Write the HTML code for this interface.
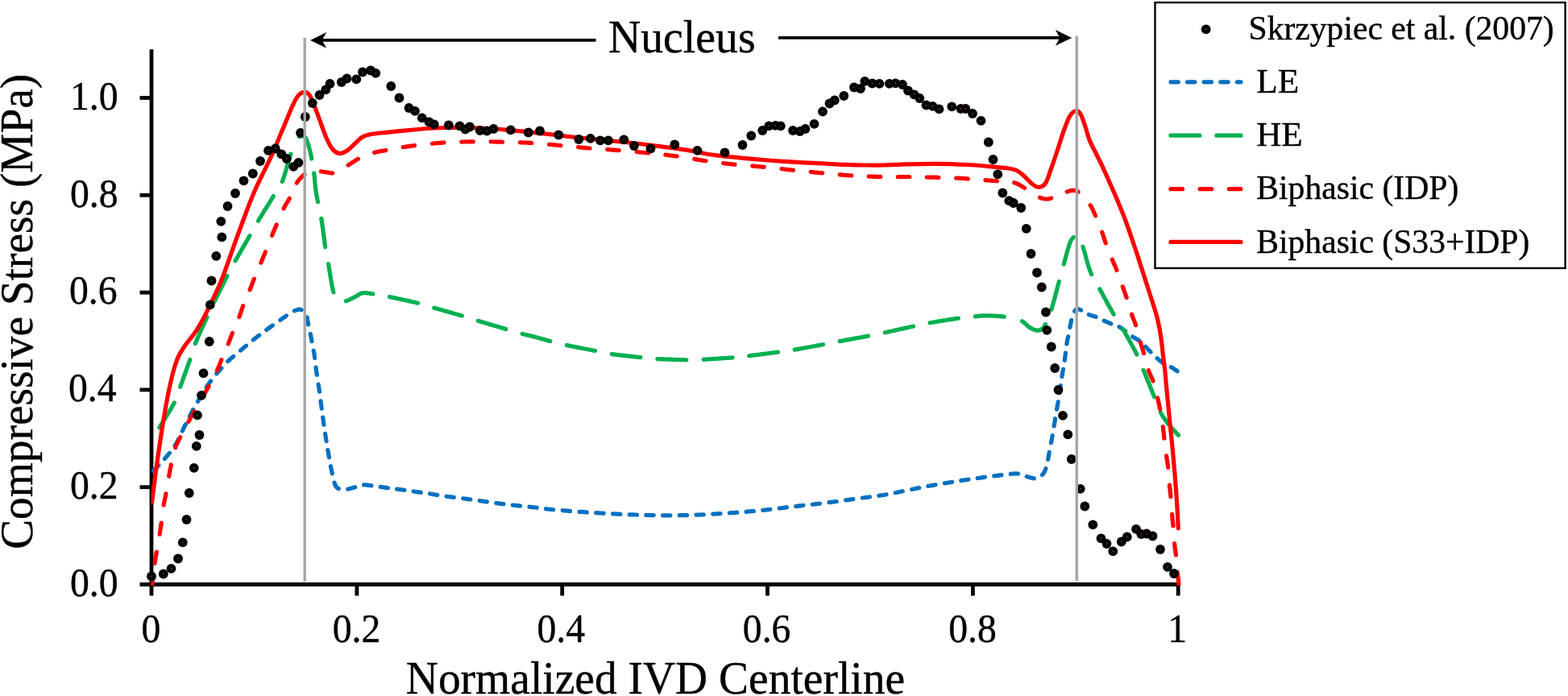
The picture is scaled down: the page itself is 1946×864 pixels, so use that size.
<!DOCTYPE html>
<html lang="en"><head><meta charset="utf-8"><title>Compressive stress along IVD centerline</title>
<style>html,body{margin:0;padding:0;background:#fff;}body{width:1946px;height:864px;overflow:hidden;}svg{display:block;}text{font-family:"Liberation Serif","Times New Roman",serif;fill:#000;}</style>
</head><body>
<svg width="1946" height="864" viewBox="0 0 1946 864">
<rect width="1946" height="864" fill="#fff"/>
<g stroke="#000" stroke-width="4.8" fill="none">
<line x1="188.0" y1="61.2" x2="188.0" y2="739.5"/>
<line x1="173.5" y1="725.5" x2="1465" y2="725.5"/>
<line x1="173.5" y1="604.7" x2="188.0" y2="604.7"/>
<line x1="173.5" y1="483.9" x2="188.0" y2="483.9"/>
<line x1="173.5" y1="363.1" x2="188.0" y2="363.1"/>
<line x1="173.5" y1="242.3" x2="188.0" y2="242.3"/>
<line x1="173.5" y1="121.5" x2="188.0" y2="121.5"/>
<line x1="442.9" y1="725.5" x2="442.9" y2="739.5"/>
<line x1="697.7" y1="725.5" x2="697.7" y2="739.5"/>
<line x1="952.5" y1="725.5" x2="952.5" y2="739.5"/>
<line x1="1207.4" y1="725.5" x2="1207.4" y2="739.5"/>
<line x1="1462.2" y1="725.5" x2="1462.2" y2="739.5"/>
</g>
<defs><clipPath id="plot"><rect x="187.4" y="30" width="1279" height="697"/></clipPath></defs>
<g clip-path="url(#plot)">
<path d="M190.4 584.6L191.4 583.5L192.3 582.5L193.3 581.5L194.5 580.3L195.3 579.4L196.3 578.4L196.8 577.8M204.4 569.5L205.3 568.5L206.1 567.5L206.9 566.6L207.7 565.6L208.5 564.7L209.2 563.7L210.0 562.8L210.4 562.4M217.0 553.3L217.7 552.1L218.4 551.1L219.0 550.1L219.7 548.7L220.4 547.3L221.1 545.9L221.5 545.2M226.3 535.0L227.0 533.7L227.6 532.3L228.3 530.9L228.9 529.8L229.4 528.7L230.0 527.6L230.4 526.7M235.4 516.6L235.9 515.5L236.6 514.2L237.3 512.8L237.9 511.7L238.5 510.6L239.1 509.4L239.7 508.4M245.5 498.4L246.2 497.2L246.8 496.1L247.5 495.0L248.3 493.7L249.1 492.3L249.8 491.3L250.2 490.4M256.3 480.6L257.1 479.4L258.0 478.0L258.8 476.8L259.6 475.6L260.6 474.2L261.4 473.1L261.5 472.9M268.8 463.9L269.7 462.8L270.7 461.6L271.7 460.5L272.7 459.3L273.7 458.2L274.7 457.0L274.8 456.9M282.8 448.5L283.9 447.5L285.0 446.5L286.2 445.4L287.1 444.6L288.1 443.8L289.0 443.0L289.7 442.4M298.5 435.1L299.4 434.3L300.7 433.2L301.7 432.4L302.6 431.6L303.6 430.7L304.6 429.9L305.5 429.1L305.6 429.1M314.3 421.9L315.3 421.0L316.3 420.3L317.3 419.5L318.2 418.8L319.2 418.1L320.4 417.1L321.7 416.2M330.8 409.4L331.9 408.6L332.9 407.9L333.9 407.2L334.9 406.4L335.9 405.7L337.0 405.0L338.0 404.2L338.4 404.0M347.8 397.3L349.1 396.4L350.2 395.6L351.3 394.8L352.3 394.1L353.4 393.3L354.4 392.6L355.4 391.9M365.3 385.8L366.5 385.3L368.0 384.9L369.3 384.5L370.5 384.2L371.8 384.1L373.0 384.2L374.1 384.6L374.2 384.7M381.1 393.8L381.4 395.3L381.5 396.5L381.7 397.9L381.9 399.2L382.1 400.6L382.4 402.0L382.6 402.9M385.2 414.6L385.5 416.2L385.8 417.4L386.0 418.7L386.3 420.0L386.6 421.5L386.9 423.1L387.0 423.7M389.2 435.3L389.5 436.8L389.7 438.0L389.9 439.2L390.1 440.4L390.3 442.0L390.5 443.5L390.6 444.5M392.0 456.1L392.1 457.4L392.3 458.7L392.5 460.0L392.7 461.4L392.9 462.8L393.1 464.3L393.3 465.4M395.1 477.0L395.3 478.5L395.5 479.8L395.8 481.2L396.0 482.6L396.2 484.0L396.3 485.3L396.5 486.2M398.0 497.8L398.2 499.4L398.4 500.7L398.6 502.0L398.7 503.3L398.9 504.6L399.1 505.9L399.2 507.1M400.7 518.1L400.9 519.3L401.1 520.8L401.3 522.2L401.4 523.5L401.6 524.9L401.8 526.3L402.0 527.3M403.6 538.4L403.8 539.8L404.0 541.3L404.3 542.7L404.5 544.2L404.7 545.6L404.9 547.1L405.0 547.6M406.8 558.6L407.1 560.1L407.3 561.7L407.6 563.3L407.9 564.8L408.1 566.3L408.4 567.8M410.4 578.7L410.7 580.2L410.9 581.4L411.2 582.5L411.5 584.1L411.8 585.6L412.1 587.0L412.3 587.9M415.1 599.3L415.5 600.4L415.9 601.7L416.6 603.0L417.4 604.4L418.2 605.3L419.4 606.2L420.3 606.6M431.8 607.2L433.1 606.9L434.3 606.6L435.5 606.3L436.8 605.9L438.0 605.6L439.2 605.2L440.4 604.9L440.8 604.8M451.7 601.9L452.9 601.9L454.4 602.0L456.0 602.2L457.2 602.3L458.4 602.5L459.7 602.7L461.0 602.8M472.2 604.4L473.7 604.6L475.0 604.8L476.3 605.0L477.6 605.2L479.0 605.4L480.3 605.5L481.4 605.7M492.6 607.2L493.9 607.3L495.1 607.5L496.4 607.6L497.6 607.8L498.9 608.0L500.1 608.1L501.4 608.3L501.9 608.4M513.1 610.0L514.5 610.2L515.7 610.4L516.9 610.5L518.1 610.7L519.3 610.9L520.5 611.1L521.7 611.2L522.3 611.3M533.6 613.0L535.2 613.3L536.3 613.5L537.5 613.7L538.7 613.8L539.9 614.0L541.1 614.2L542.3 614.4L542.8 614.5M554.1 616.2L555.4 616.4L556.6 616.5L557.8 616.7L559.0 616.8L560.2 617.0L561.3 617.1L562.5 617.3L563.3 617.4M574.7 618.8L576.0 619.0L577.2 619.1L578.4 619.3L579.6 619.4L580.8 619.6L582.0 619.8L583.2 619.9L583.9 620.0M595.2 621.6L596.7 621.8L597.9 622.0L599.0 622.2L600.2 622.3L601.4 622.5L602.6 622.7L603.8 622.8L604.4 622.9M615.8 624.5L617.0 624.6L618.5 624.9L620.1 625.1L621.7 625.3L622.9 625.4L624.1 625.6L625.0 625.7M636.3 627.0L637.8 627.2L639.0 627.3L640.2 627.4L641.5 627.6L642.7 627.7L644.0 627.8L645.2 627.9L645.6 628.0M656.9 629.2L658.1 629.3L659.6 629.5L660.9 629.6L662.1 629.7L663.4 629.9L664.6 630.0L666.1 630.2L666.2 630.2M677.5 631.7L679.0 631.9L680.3 632.0L681.7 632.2L683.0 632.3L684.5 632.5L686.0 632.6L686.7 632.7M698.2 633.7L699.7 633.8L700.9 633.9L702.1 634.0L703.4 634.1L704.6 634.2L705.9 634.3L707.2 634.4L707.5 634.4M719.0 635.3L720.5 635.4L721.7 635.4L722.9 635.5L724.1 635.6L725.3 635.7L726.5 635.8L727.7 635.9L728.3 635.9M739.8 636.7L741.0 636.7L742.3 636.8L743.5 636.9L744.7 637.0L745.9 637.0L747.1 637.1L748.3 637.2L749.1 637.2M760.6 637.8L762.0 637.9L763.2 638.0L764.4 638.0L765.6 638.1L766.9 638.1L768.1 638.2L769.3 638.3L769.9 638.3M781.2 638.8L782.6 638.8L783.8 638.9L785.0 638.9L786.2 638.9L787.4 639.0L788.6 639.0L789.8 639.1L790.5 639.1M801.9 639.4L803.1 639.4L804.4 639.5L805.6 639.5L806.8 639.5L808.0 639.6L809.2 639.6L810.4 639.6L811.2 639.6M822.6 639.8L824.1 639.8L825.3 639.8L826.5 639.8L827.7 639.8L829.0 639.8L830.2 639.8L831.4 639.8L831.9 639.8M843.3 639.7L844.7 639.7L845.9 639.7L847.1 639.6L848.3 639.6L849.5 639.6L850.7 639.6L851.9 639.5L852.6 639.5M864.0 639.1L865.2 639.1L866.5 639.1L867.7 639.0L868.9 639.0L870.1 638.9L871.3 638.9L872.5 638.8L873.3 638.8M884.7 638.2L886.2 638.1L887.4 638.0L888.6 637.9L889.8 637.9L891.0 637.8L892.3 637.7L893.5 637.6L894.0 637.6M905.4 636.8L906.8 636.7L908.0 636.6L909.2 636.6L910.4 636.5L911.6 636.4L912.8 636.3L914.0 636.2L914.7 636.2M926.1 635.3L927.6 635.1L928.8 635.0L929.9 634.9L931.1 634.8L932.3 634.7L933.5 634.6L934.7 634.5L935.4 634.5M946.7 633.4L947.9 633.3L949.1 633.1L950.3 633.0L951.5 632.9L952.7 632.7L953.9 632.6L955.1 632.5L955.9 632.4M967.2 631.0L968.6 630.8L969.8 630.7L971.0 630.5L972.2 630.4L973.4 630.2L974.6 630.1L975.8 629.9L976.5 629.8M987.8 628.5L989.0 628.3L990.2 628.2L991.4 628.1L992.6 627.9L993.8 627.8L995.0 627.7L996.2 627.5L997.0 627.4M1008.3 626.2L1009.7 626.0L1010.9 625.9L1012.1 625.7L1013.3 625.6L1014.5 625.5L1015.7 625.3L1016.9 625.2L1017.5 625.1M1029.0 623.7L1030.5 623.5L1031.7 623.3L1032.9 623.2L1034.1 623.0L1035.3 622.9L1036.5 622.7L1037.7 622.5L1038.2 622.5M1049.6 620.9L1050.8 620.8L1052.0 620.6L1053.2 620.4L1054.4 620.3L1055.6 620.1L1056.8 619.9L1058.0 619.8L1058.8 619.7M1070.2 618.1L1071.5 618.0L1072.7 617.8L1074.0 617.6L1075.2 617.5L1076.5 617.3L1077.7 617.2L1079.0 617.0L1079.4 616.9M1090.8 615.3L1092.1 615.1L1093.6 614.9L1095.0 614.7L1096.5 614.5L1098.0 614.2L1099.3 614.0L1100.0 613.9M1111.2 611.7L1112.4 611.5L1113.9 611.1L1115.4 610.8L1116.9 610.5L1118.4 610.2L1119.8 609.9L1120.3 609.8M1131.6 607.5L1133.1 607.2L1134.3 606.9L1135.5 606.7L1136.7 606.4L1137.9 606.2L1139.4 605.9L1140.7 605.6M1151.9 603.4L1153.2 603.2L1154.4 603.0L1155.6 602.8L1156.7 602.6L1157.9 602.4L1159.1 602.2L1160.3 602.0L1161.1 601.8M1172.4 599.9L1173.8 599.7L1175.0 599.5L1176.2 599.3L1177.4 599.1L1178.6 598.9L1179.8 598.7L1181.0 598.5L1181.6 598.4M1192.8 596.6L1194.0 596.4L1195.2 596.2L1196.4 596.0L1197.6 595.9L1198.8 595.7L1200.0 595.5L1201.2 595.3L1202.0 595.2M1213.2 593.6L1214.6 593.4L1215.8 593.2L1217.0 593.1L1218.6 592.9L1220.2 592.6L1221.7 592.4L1222.4 592.3M1233.7 590.9L1235.1 590.7L1236.6 590.5L1238.2 590.3L1239.7 590.1L1241.2 589.9L1242.7 589.7L1242.9 589.7M1254.2 588.4L1255.7 588.2L1256.9 588.1L1258.4 588.0L1260.0 587.9L1261.4 587.9L1263.0 588.0L1263.5 588.1M1274.3 591.6L1275.4 591.9L1276.8 592.3L1278.0 592.7L1279.2 593.0L1280.4 593.4L1282.0 593.7L1283.3 593.9M1293.5 589.6L1294.5 588.5L1295.3 587.4L1296.0 586.1L1296.7 584.8L1297.2 583.7L1297.6 582.5L1297.9 581.6M1300.6 570.5L1300.9 568.9L1301.1 567.7L1301.4 566.4L1301.6 565.1L1301.8 563.8L1302.0 562.5L1302.2 561.4M1304.5 549.7L1304.8 548.2L1305.0 547.0L1305.2 545.8L1305.5 544.6L1305.7 543.4L1305.9 542.1L1306.1 540.8L1306.2 540.6M1308.1 528.9L1308.4 527.5L1308.6 526.3L1308.8 525.1L1309.0 523.9L1309.2 522.7L1309.3 521.5L1309.5 520.3L1309.6 519.7M1311.6 508.1L1311.9 506.6L1312.1 505.0L1312.4 503.5L1312.6 502.3L1312.8 501.1L1313.0 499.9L1313.2 498.9M1314.9 487.8L1315.1 486.4L1315.3 485.1L1315.4 483.9L1315.6 482.7L1315.8 481.5L1316.0 480.3L1316.1 479.0L1316.2 478.6M1317.9 467.5L1318.1 466.3L1318.3 465.1L1318.5 463.8L1318.7 462.6L1318.9 461.4L1319.2 460.2L1319.4 459.0L1319.5 458.4M1321.3 447.3L1321.5 445.8L1321.7 444.5L1321.9 443.2L1322.0 441.9L1322.2 440.7L1322.3 439.4L1322.5 438.1L1322.5 438.1M1323.9 427.0L1324.1 425.6L1324.3 424.3L1324.6 422.8L1324.9 421.3L1325.2 419.9L1325.6 418.5L1325.7 417.9M1327.9 406.4L1328.2 404.8L1328.4 403.5L1328.7 402.3L1328.9 401.0L1329.2 399.8L1329.5 398.3L1329.7 397.3M1333.7 386.4L1334.4 385.4L1335.4 384.4L1336.8 383.7L1338.2 383.7L1339.6 384.1L1340.8 384.6L1341.6 385.0M1351.3 390.5L1352.8 391.1L1354.0 391.5L1355.2 391.8L1356.4 392.2L1357.6 392.6L1358.8 392.9L1360.1 393.4M1370.2 398.1L1371.4 398.7L1372.5 399.2L1373.6 399.7L1374.7 400.2L1375.9 400.7L1377.0 401.2L1378.1 401.7L1378.7 401.9M1389.1 405.8L1390.3 406.5L1391.4 407.2L1392.7 408.1L1393.7 408.8L1394.7 409.6L1395.7 410.4L1396.7 411.1M1405.6 417.9L1406.6 418.6L1407.8 419.3L1408.8 419.9L1410.2 420.6L1411.4 421.4L1412.7 422.1L1413.5 422.7M1421.6 430.3L1422.6 431.3L1423.4 432.2L1424.5 433.3L1425.7 434.5L1426.6 435.4L1427.4 436.3L1428.1 437.0M1436.1 444.7L1437.1 445.6L1438.0 446.4L1439.0 447.3L1439.9 448.1L1440.9 448.8L1441.9 449.5L1442.8 450.2L1443.3 450.6M1453.4 455.8L1454.6 456.4L1455.7 457.2L1456.9 457.9L1458.1 458.7L1459.3 459.5L1460.4 460.2L1461.2 460.8" stroke="#0070c0" fill="none" stroke-width="5.2" stroke-linecap="round" stroke-linejoin="round"/>
<path d="M197.9 530.7L198.7 529.4L199.3 528.4L200.0 527.2L200.8 526.0L201.6 524.7L202.3 523.6L202.9 522.5L203.6 521.4L204.4 520.3L205.1 519.1L205.8 517.9L206.6 516.7L207.3 515.5L208.0 514.3L208.8 513.0L209.5 511.8L210.3 510.6L211.0 509.4L211.7 508.2L212.3 507.1L213.0 506.0L213.6 504.9L214.2 503.8L215.0 502.4L215.7 501.2L216.3 500.0L216.4 499.9M223.7 480.2L224.2 478.8L224.7 477.4L225.2 476.1L225.8 474.6L226.3 473.1L226.7 471.9L227.1 470.7L227.6 469.5L228.0 468.3L228.5 467.0L228.9 465.8L229.4 464.5L229.8 463.3L230.3 462.0L230.7 460.7L231.2 459.5L231.6 458.2L232.1 457.0L232.5 455.7L232.9 454.5L233.4 453.3L233.8 452.2L234.2 451.0L234.7 449.6L235.2 448.2L235.7 446.8L235.8 446.3M242.4 426.5L243.0 425.1L243.5 424.0L243.9 422.8L244.5 421.5L245.0 420.3L245.5 419.0L246.1 417.7L246.7 416.3L247.3 415.0L247.9 413.6L248.5 412.2L249.2 410.7L249.6 409.6L250.2 408.5L250.7 407.3L251.2 406.1L251.7 405.0L252.3 403.8L252.8 402.5L253.4 401.3L254.0 400.0L254.6 398.7L255.2 397.4L255.8 396.1L256.4 394.8L257.0 393.6M266.1 374.6L266.8 373.1L267.4 371.9L268.0 370.7L268.6 369.5L269.2 368.3L269.8 367.0L270.4 365.8L271.0 364.6L271.6 363.4L272.2 362.2L272.8 361.0L273.3 359.8L273.9 358.6L274.5 357.4L275.1 356.3L275.6 355.2L276.2 354.1L276.7 353.0L277.2 351.9L277.9 350.5L278.6 349.1L279.3 347.8L279.9 346.5L280.5 345.3L281.1 344.2L281.6 343.1L282.0 342.4M292.0 323.8L292.6 322.7L293.3 321.5L294.0 320.2L294.8 318.8L295.4 317.8L296.1 316.7L296.7 315.6L297.3 314.4L298.0 313.3L298.7 312.1L299.3 311.0L300.0 309.8L300.7 308.6L301.4 307.5L302.0 306.3L302.7 305.1L303.4 304.0L304.0 302.8L304.7 301.7L305.3 300.6L306.0 299.5L306.6 298.4L307.4 297.1L308.1 295.8L308.8 294.5L309.5 293.3L309.9 292.7M320.5 274.2L321.2 273.0L321.9 271.8L322.7 270.5L323.5 269.2L324.2 268.2L324.8 267.1L325.5 266.0L326.1 264.9L326.8 263.8L327.5 262.7L328.2 261.6L328.9 260.4L329.6 259.3L330.4 258.1L331.1 257.0L331.8 255.8L332.5 254.7L333.2 253.6L333.9 252.5L334.5 251.4L335.2 250.3L335.8 249.2L336.5 248.2L337.3 246.9L338.1 245.6L338.8 244.4L339.3 243.6M350.2 225.4L350.7 224.2L351.2 222.8L351.7 221.4L352.2 219.9L352.6 218.7L353.0 217.5L353.4 216.2L353.8 215.0L354.2 213.7L354.6 212.3L355.0 211.0L355.4 209.7L355.7 208.4L356.1 207.0L356.5 205.7L356.9 204.4L357.3 203.1L357.7 201.8L358.0 200.5L358.4 199.3L358.7 198.1L359.1 196.9L359.5 195.5L359.9 194.1L360.3 192.8L360.7 191.6L360.8 191.1M371.5 169.8L372.6 169.2L373.9 168.8L375.1 168.7L376.6 169.0L378.1 169.7L379.2 171.0L379.8 172.1L380.4 173.4L381.0 174.8L381.4 176.0L381.8 177.3L382.3 178.7L382.7 180.1L383.1 181.3L383.5 182.7L383.9 184.1L384.3 185.6L384.6 187.1L384.9 188.2L385.2 189.4L385.5 190.7L385.8 192.0L386.0 193.3L386.3 194.6L386.6 195.8L386.8 197.0M389.7 215.1L389.9 216.4L390.1 217.9L390.2 219.4L390.4 220.9L390.5 222.4L390.7 224.0L390.8 225.6L390.9 226.8L391.0 228.0L391.1 229.2L391.3 230.4L391.4 231.7L391.5 233.0L391.7 234.2L391.9 235.6L392.0 236.9L392.2 238.2L392.4 239.5L392.7 241.1L392.9 242.5L393.2 244.0L393.5 245.5L393.8 247.0L394.1 248.5L394.4 250.0L394.6 250.6M398.8 271.3L399.0 272.8L399.3 274.4L399.5 275.6L399.7 276.8L399.8 278.0L400.0 279.2L400.2 280.5L400.4 281.8L400.5 283.0L400.7 284.3L400.9 285.6L401.0 286.9L401.2 288.2L401.4 289.5L401.5 290.7L401.7 292.0L401.9 293.3L402.0 294.5L402.2 295.8L402.3 297.0L402.5 298.2L402.7 299.8L402.9 301.3L403.1 302.8L403.3 304.2L403.5 305.6L403.7 306.8M407.5 327.5L407.7 328.8L408.0 330.2L408.2 331.7L408.5 333.3L408.7 334.5L408.9 335.8L409.1 337.1L409.3 338.4L409.5 339.7L409.7 341.1L410.0 342.5L410.2 343.8L410.4 345.2L410.6 346.6L410.9 347.9L411.1 349.3L411.3 350.6L411.6 351.9L411.8 353.2L412.0 354.4L412.2 355.6L412.6 357.1L412.9 358.6L413.1 359.9L413.4 361.1L413.8 362.5L413.9 362.8M429.4 373.7L430.9 373.2L432.4 372.6L433.6 372.1L434.7 371.5L435.9 370.9L437.0 370.3L438.2 369.7L439.3 369.1L440.4 368.6L441.5 368.0L442.6 367.3L443.6 366.7L444.7 366.0L445.7 365.4L446.8 364.8L447.9 364.3L449.1 364.0L450.4 363.7L451.8 363.6L453.3 363.6L454.8 363.7L456.4 363.9L457.6 364.0L458.8 364.2L460.1 364.4L461.5 364.7L462.8 364.9M483.5 368.5L484.7 368.8L486.1 369.1L487.6 369.4L489.2 369.7L490.3 369.9L491.6 370.2L492.8 370.5L494.1 370.7L495.4 371.0L496.7 371.3L498.0 371.6L499.3 371.9L500.6 372.2L502.0 372.5L503.3 372.7L504.6 373.0L505.9 373.3L507.2 373.6L508.5 373.9L509.7 374.2L511.0 374.5L512.1 374.7L513.7 375.1L515.2 375.4L516.6 375.8L517.9 376.1L518.6 376.2M538.8 382.2L540.0 382.5L541.4 382.9L542.8 383.3L544.3 383.8L545.5 384.1L546.7 384.4L548.0 384.8L549.2 385.1L550.5 385.5L551.8 385.9L553.1 386.2L554.4 386.6L555.7 387.0L557.0 387.3L558.3 387.7L559.6 388.1L560.9 388.4L562.2 388.8L563.4 389.2L564.7 389.5L565.9 389.9L567.1 390.2L568.3 390.5L569.8 391.0L571.2 391.4L572.5 391.8L573.4 392.0M593.4 398.3L594.6 398.6L596.0 399.1L597.4 399.5L598.9 399.9L600.1 400.3L601.3 400.6L602.5 401.0L603.7 401.4L605.0 401.7L606.3 402.1L607.5 402.5L608.8 402.9L610.1 403.3L611.4 403.7L612.7 404.0L614.0 404.4L615.3 404.8L616.6 405.2L617.9 405.6L619.1 405.9L620.3 406.3L621.5 406.6L622.7 407.0L624.2 407.4L625.6 407.8L626.9 408.2L627.8 408.5M648.2 414.5L649.5 414.8L650.7 415.1L651.9 415.4L653.0 415.7L654.2 416.0L655.4 416.3L656.6 416.5L657.8 416.8L659.0 417.1L660.2 417.4L661.3 417.6L662.5 417.9L663.7 418.2L664.8 418.5L666.4 418.9L667.6 419.2L668.7 419.5L669.9 419.9L671.1 420.2L672.6 420.6L674.1 421.1L675.7 421.5L677.2 422.0L678.7 422.4L679.9 422.7L681.0 423.1L682.2 423.4L682.9 423.6M703.4 428.5L704.7 428.8L706.1 429.1L707.6 429.4L709.1 429.7L710.3 429.9L711.5 430.2L712.7 430.4L714.0 430.7L715.3 430.9L716.6 431.2L717.9 431.4L719.2 431.7L720.6 432.0L721.9 432.2L723.2 432.5L724.6 432.8L725.9 433.0L727.2 433.3L728.5 433.5L729.7 433.8L731.0 434.0L732.2 434.3L733.4 434.5L734.9 434.8L736.4 435.1L737.8 435.4L738.6 435.5M759.3 439.6L760.7 439.8L762.1 439.9L763.6 440.1L765.1 440.3L766.3 440.5L767.5 440.6L768.8 440.8L770.0 440.9L771.3 441.1L772.6 441.2L774.0 441.4L775.3 441.5L776.7 441.7L778.0 441.8L779.3 442.0L780.7 442.1L782.0 442.3L783.3 442.4L784.6 442.6L785.9 442.7L787.2 442.8L788.4 443.0L789.6 443.1L791.2 443.3L792.7 443.4L794.1 443.6L795.0 443.7M816.0 445.6L817.3 445.6L818.7 445.7L820.2 445.8L821.7 445.8L822.9 445.9L824.2 445.9L825.5 446.0L826.8 446.0L828.1 446.1L829.4 446.1L830.7 446.2L832.1 446.2L833.4 446.3L834.8 446.3L836.2 446.4L837.5 446.4L838.8 446.5L840.2 446.5L841.5 446.5L842.8 446.6L844.0 446.6L845.3 446.6L846.5 446.7L848.0 446.7L849.5 446.7L850.9 446.8L851.8 446.8M873.2 446.3L874.5 446.2L875.9 446.1L877.4 446.0L878.9 445.9L880.2 445.9L881.4 445.8L882.7 445.7L884.0 445.6L885.3 445.5L886.6 445.5L887.9 445.4L889.3 445.3L890.6 445.2L892.0 445.1L893.4 445.0L894.7 444.9L896.0 444.8L897.4 444.7L898.7 444.6L900.0 444.5L901.2 444.5L902.5 444.4L903.7 444.3L905.2 444.2L906.7 444.1L908.1 444.0L909.0 443.9M929.7 441.7L931.0 441.5L932.4 441.4L933.9 441.2L935.5 441.0L936.7 440.8L937.9 440.7L939.2 440.5L940.5 440.3L941.8 440.2L943.1 440.0L944.4 439.8L945.8 439.7L947.1 439.5L948.5 439.3L949.8 439.2L951.1 439.0L952.5 438.8L953.8 438.6L955.1 438.5L956.4 438.3L957.6 438.1L958.8 438.0L960.0 437.8L961.6 437.6L963.0 437.4L964.4 437.3L965.4 437.1M986.3 434.1L987.6 433.9L989.0 433.6L990.4 433.4L992.0 433.1L993.2 432.9L994.4 432.7L995.7 432.4L996.9 432.2L998.2 432.0L999.5 431.7L1000.9 431.5L1002.2 431.2L1003.5 431.0L1004.9 430.8L1006.2 430.5L1007.5 430.3L1008.8 430.0L1010.1 429.8L1011.4 429.6L1012.7 429.3L1013.9 429.1L1015.1 428.9L1016.7 428.6L1018.2 428.3L1019.6 428.0L1020.9 427.8L1021.6 427.7M1042.2 423.6L1043.5 423.4L1044.9 423.1L1046.4 422.8L1047.9 422.6L1049.1 422.3L1050.3 422.1L1051.6 421.9L1052.8 421.6L1054.1 421.4L1055.4 421.2L1056.7 420.9L1058.1 420.7L1059.4 420.4L1060.7 420.2L1062.1 419.9L1063.4 419.7L1064.7 419.4L1066.0 419.2L1067.3 419.0L1068.6 418.7L1069.8 418.5L1071.0 418.3L1072.2 418.0L1073.7 417.8L1075.2 417.5L1076.6 417.2L1077.5 417.1M1098.5 412.8L1099.7 412.5L1101.1 412.2L1102.6 411.9L1104.1 411.6L1105.3 411.3L1106.5 411.0L1107.8 410.8L1109.0 410.5L1110.3 410.2L1111.6 409.9L1112.9 409.6L1114.2 409.3L1115.6 409.0L1116.9 408.7L1118.2 408.4L1119.5 408.1L1120.8 407.9L1122.1 407.6L1123.4 407.3L1124.6 407.0L1125.9 406.7L1127.1 406.5L1128.6 406.1L1130.1 405.8L1131.5 405.5L1132.9 405.2L1133.5 405.1M1154.0 400.8L1155.4 400.5L1156.8 400.3L1158.3 400.0L1159.8 399.8L1161.0 399.6L1162.2 399.4L1163.4 399.2L1164.7 398.9L1166.0 398.7L1167.3 398.5L1168.6 398.3L1169.9 398.1L1171.2 397.9L1172.6 397.7L1173.9 397.5L1175.2 397.2L1176.5 397.0L1177.8 396.8L1179.1 396.6L1180.4 396.4L1181.6 396.3L1182.8 396.1L1184.4 395.8L1185.9 395.6L1187.4 395.4L1188.7 395.2L1189.4 395.1M1210.3 392.8L1211.8 392.6L1213.0 392.5L1214.6 392.3L1216.1 392.2L1217.5 392.1L1219.0 391.9L1220.5 391.9L1221.8 391.8L1223.1 391.8L1224.5 391.8L1226.0 391.8L1227.5 391.8L1229.0 391.9L1230.6 392.0L1231.8 392.0L1233.1 392.1L1234.3 392.1L1235.6 392.2L1236.9 392.3L1238.2 392.4L1239.4 392.5L1240.7 392.6L1242.0 392.7L1243.2 392.8L1244.4 392.9L1246.0 393.1L1246.1 393.1M1268.7 398.8L1269.8 399.6L1270.8 400.4L1271.8 401.2L1272.7 402.1L1273.6 402.9L1274.7 404.0L1275.8 405.0L1276.9 405.9L1278.4 406.8L1279.6 407.5L1280.8 408.2L1282.0 408.7L1283.2 409.1L1284.6 409.6L1286.0 409.9L1287.3 410.1L1288.6 410.2L1289.8 410.0L1291.0 409.6L1292.1 409.0L1293.3 408.2L1294.2 407.5L1295.1 406.5L1295.9 405.5L1296.6 404.2L1297.2 403.1L1297.5 402.5M1304.9 384.1L1305.3 382.9L1305.7 381.6L1306.1 380.2L1306.5 378.7L1306.9 377.2L1307.3 376.0L1307.6 374.8L1307.9 373.6L1308.3 372.4L1308.6 371.1L1309.0 369.8L1309.3 368.5L1309.6 367.2L1310.0 365.9L1310.3 364.7L1310.7 363.4L1311.0 362.1L1311.3 360.8L1311.7 359.5L1312.0 358.3L1312.3 357.1L1312.6 355.9L1312.9 354.7L1313.3 353.2L1313.7 351.8L1314.1 350.4L1314.3 349.5M1320.2 328.0L1320.6 326.6L1321.0 325.1L1321.3 323.9L1321.7 322.7L1322.0 321.4L1322.4 320.1L1322.7 318.8L1323.1 317.5L1323.4 316.2L1323.8 314.9L1324.1 313.6L1324.5 312.3L1324.8 311.1L1325.2 309.9L1325.5 308.7L1326.0 307.2L1326.4 305.8L1326.8 304.5L1327.2 303.3L1327.8 301.8L1328.3 300.5L1329.0 298.9L1329.6 297.7L1330.5 296.5L1331.5 295.4L1332.3 294.6M1344.0 306.3L1344.5 307.8L1344.9 309.2L1345.4 310.7L1345.7 311.9L1346.1 313.2L1346.4 314.4L1346.8 315.7L1347.1 317.0L1347.4 318.2L1347.8 319.5L1348.1 320.8L1348.4 322.0L1348.8 323.2L1349.1 324.4L1349.5 325.8L1349.9 327.2L1350.3 328.5L1350.7 329.8L1351.1 331.0L1351.5 332.2L1351.9 333.6L1352.4 335.0L1352.9 336.4L1353.5 337.8L1354.1 339.3L1354.6 340.5L1354.7 340.6M1364.8 358.8L1365.4 360.0L1366.1 361.2L1366.8 362.5L1367.6 363.9L1368.2 365.0L1368.8 366.0L1369.4 367.1L1370.0 368.3L1370.6 369.4L1371.2 370.6L1371.9 371.7L1372.5 372.9L1373.2 374.1L1373.8 375.3L1374.5 376.5L1375.1 377.6L1375.8 378.8L1376.4 380.0L1377.0 381.1L1377.7 382.2L1378.3 383.3L1378.9 384.4L1379.5 385.5L1380.2 386.8L1381.0 388.1L1381.7 389.4L1382.1 390.2M1393.7 408.6L1394.3 409.6L1395.0 410.8L1395.7 412.1L1396.4 413.4L1397.2 414.8L1397.8 415.9L1398.4 417.0L1399.1 418.1L1399.7 419.2L1400.3 420.3L1401.0 421.5L1401.6 422.7L1402.3 423.8L1402.9 425.0L1403.5 426.2L1404.2 427.3L1404.8 428.5L1405.4 429.6L1406.0 430.8L1406.6 431.9L1407.2 433.0L1407.8 434.1L1408.6 435.5L1409.3 436.8L1409.9 438.1L1410.6 439.4L1410.9 440.0M1419.0 459.4L1419.5 460.6L1420.1 461.9L1420.7 463.3L1421.2 464.8L1421.7 465.9L1422.2 467.0L1422.6 468.2L1423.1 469.4L1423.6 470.6L1424.1 471.9L1424.6 473.1L1425.1 474.3L1425.7 475.6L1426.2 476.9L1426.7 478.1L1427.2 479.3L1427.7 480.6L1428.2 481.8L1428.7 483.0L1429.1 484.2L1429.6 485.3L1430.1 486.5L1430.6 487.9L1431.2 489.3L1431.8 490.7L1432.3 491.9L1432.6 492.7M1440.4 512.1L1441.2 513.5L1441.8 514.6L1442.4 515.6L1443.2 516.9L1444.1 518.3L1445.0 519.6L1445.9 520.8L1446.8 522.1L1447.8 523.4L1448.5 524.4L1449.2 525.3L1450.0 526.3L1450.8 527.2L1451.6 528.2L1452.4 529.3L1453.3 530.3L1454.3 531.4L1455.2 532.4L1456.2 533.5L1457.1 534.5L1458.1 535.5L1458.9 536.4L1459.8 537.4L1460.8 538.5L1461.8 539.5L1462.5 540.3" stroke="#00b050" fill="none" stroke-width="5.2" stroke-linecap="round" stroke-linejoin="round"/>
<path d="M188.8 725.0L189.0 723.6L189.1 722.3L189.3 721.0M192.1 699.5L192.3 698.0L192.5 696.7L192.7 695.4L192.8 694.2L193.1 692.7L193.3 691.2L193.5 689.8L193.8 688.3L194.0 686.8L194.2 685.5L194.3 685.2M198.1 663.3L198.3 662.1L198.5 660.8L198.7 659.6L198.9 658.1L199.2 656.6L199.4 655.1L199.6 653.6L199.9 652.0L200.1 650.5L200.3 649.2L200.3 649.0M203.1 627.0L203.3 625.8L203.5 624.5L203.8 623.3L204.1 621.8L204.4 620.3L204.7 618.8L205.1 617.3L205.4 615.7L205.7 614.2L206.0 613.0L206.0 612.8M209.7 591.3L209.9 590.0L210.1 588.8L210.4 587.3L210.7 585.8L210.9 584.3L211.2 582.8L211.5 581.2L211.7 580.1L212.0 578.8L212.2 577.6L212.3 577.0M217.7 555.8L218.1 554.6L218.6 553.4L219.0 552.3L219.6 550.8L220.3 549.5L220.9 548.1L221.6 546.8L222.2 545.7L222.8 544.6L223.4 543.4L223.7 542.7M234.0 523.5L234.7 522.2L235.3 521.0L236.0 519.7L236.6 518.5L237.3 517.3L237.9 516.2L238.6 514.9L239.3 513.8L240.0 512.5L240.7 511.2L241.0 510.8M251.9 492.0L252.7 490.6L253.4 489.4L254.0 488.3L254.7 487.2L255.3 486.1L255.9 485.0L256.7 483.7L257.5 482.4L258.2 481.1L258.8 480.0L259.1 479.4M269.3 460.1L269.9 458.9L270.4 457.7L271.0 456.3L271.6 454.9L272.2 453.5L272.7 452.0L273.3 450.6L273.9 449.1L274.3 447.9L274.8 446.7L274.8 446.7M283.3 426.9L283.8 425.5L284.3 424.3L284.7 423.2L285.3 421.7L285.8 420.3L286.3 418.9L286.9 417.4L287.4 416.0L287.9 414.8L288.3 413.7L288.5 413.3M296.9 393.5L297.3 392.3L297.7 391.2L298.1 390.1L298.5 388.9L298.9 387.8L299.3 386.6L299.7 385.5L300.0 384.3L300.4 383.2L300.8 382.1L301.2 380.9L301.6 379.8L301.6 379.8M310.1 359.7L310.6 358.4L311.1 357.3L311.5 356.1L312.0 355.0L312.4 353.9L312.8 352.8L313.4 351.3L314.0 349.8L314.5 348.3L315.1 346.8L315.4 346.1M323.9 326.1L324.4 324.9L325.0 323.4L325.6 321.9L326.2 320.5L326.8 319.0L327.3 317.9L327.8 316.8L328.2 315.6L328.7 314.5L329.2 313.3L329.4 312.7M337.6 292.3L338.2 290.9L338.6 289.7L339.1 288.6L339.7 287.1L340.3 285.7L340.9 284.3L341.5 282.9L342.1 281.5L342.6 280.3L343.1 279.2L343.2 278.9M352.1 258.9L352.7 257.6L353.4 256.3L354.0 255.2L354.6 254.2L355.4 252.9L356.1 251.6L356.9 250.4L357.7 249.1L358.5 247.7L359.1 246.6L359.3 246.3M368.3 227.1L369.1 225.9L369.9 224.8L370.7 223.7L371.5 222.7L372.4 221.7L373.3 220.7L374.2 219.8L375.1 219.0L376.0 218.1L377.2 217.1L378.0 216.4M398.3 212.8L399.9 213.1L401.2 213.3L402.4 213.5L403.9 213.7L405.5 213.9L406.8 214.0L408.0 214.3L409.5 214.6L410.9 214.8L412.4 214.8L412.7 214.8M432.2 205.0L433.4 204.2L434.4 203.6L435.5 202.9L436.5 202.2L437.5 201.5L438.6 200.9L439.7 200.2L440.7 199.5L441.8 198.9L442.8 198.2L443.9 197.6L444.4 197.3M464.6 189.4L465.9 189.1L467.3 188.7L468.8 188.4L470.3 188.1L471.9 187.8L473.4 187.5L474.7 187.3L475.9 187.1L477.2 186.8L478.6 186.6L478.8 186.5M500.2 182.7L501.8 182.5L503.0 182.3L504.2 182.1L505.4 181.9L506.6 181.8L507.8 181.6L509.0 181.4L510.2 181.2L511.3 181.1L512.5 180.9L513.7 180.8L514.6 180.6M536.4 178.2L537.7 178.0L539.2 177.9L540.7 177.8L542.3 177.6L543.8 177.5L545.4 177.4L546.6 177.3L547.8 177.2L549.1 177.1L550.4 177.1L550.9 177.0M572.8 176.1L574.2 176.1L575.4 176.0L576.7 176.0L578.0 176.0L579.2 176.0L580.5 175.9L581.8 175.9L583.0 175.9L584.3 175.9L585.5 175.8L586.7 175.8L587.3 175.8M609.1 175.9L610.5 176.0L611.7 176.0L612.9 176.0L614.1 176.0L615.3 176.1L616.6 176.1L617.8 176.1L619.0 176.2L620.2 176.2L621.4 176.2L622.6 176.2L623.6 176.3M645.4 176.8L646.9 176.9L648.1 176.9L649.4 177.0L650.6 177.0L651.8 177.1L653.0 177.1L654.2 177.2L655.5 177.2L656.7 177.3L657.9 177.4L659.2 177.4L659.8 177.5M681.5 179.3L683.0 179.4L684.2 179.5L685.4 179.7L686.7 179.8L687.9 179.9L689.1 180.0L690.3 180.1L691.5 180.2L692.7 180.4L693.9 180.5L695.1 180.6L695.9 180.7M717.6 182.7L718.8 182.8L720.0 182.9L721.2 183.1L722.4 183.2L723.6 183.3L725.2 183.4L726.8 183.6L728.4 183.7L729.9 183.9L731.5 184.0L732.0 184.0M753.8 185.6L755.2 185.7L756.8 185.8L758.4 186.0L760.0 186.1L761.6 186.2L763.2 186.3L764.8 186.4L766.0 186.5L767.2 186.6L768.2 186.7M790.0 188.5L791.5 188.7L792.7 188.8L794.0 188.9L795.2 189.0L796.4 189.1L797.6 189.3L798.8 189.4L800.0 189.5L801.3 189.6L802.5 189.7L803.8 189.9L804.4 189.9M825.9 192.2L827.4 192.4L828.6 192.5L829.8 192.7L831.0 192.8L832.2 193.0L833.4 193.1L834.6 193.3L835.8 193.4L837.4 193.6L839.0 193.8L840.3 194.0M861.7 197.4L862.9 197.6L864.5 197.9L866.1 198.2L867.6 198.4L869.2 198.7L870.8 199.0L872.4 199.2L873.9 199.5L875.1 199.6L876.0 199.8M897.6 202.6L898.8 202.8L900.4 203.0L901.6 203.1L902.8 203.2L904.0 203.4L905.2 203.5L906.4 203.6L907.6 203.8L908.8 203.9L910.0 204.0L911.3 204.2L912.0 204.2M933.7 206.1L935.3 206.2L936.5 206.3L937.7 206.4L938.9 206.5L940.1 206.6L941.3 206.7L942.5 206.8L944.1 207.0L945.7 207.1L947.3 207.2L948.2 207.3M970.0 209.6L971.4 209.8L973.0 210.0L974.6 210.2L976.1 210.3L977.7 210.5L978.9 210.7L980.1 210.8L981.3 210.9L982.5 211.0L983.8 211.2L984.4 211.2M1006.2 213.4L1007.8 213.6L1009.0 213.7L1010.2 213.8L1011.4 214.0L1012.6 214.1L1013.8 214.2L1015.0 214.3L1016.6 214.5L1018.2 214.6L1019.8 214.7L1020.7 214.8M1042.2 216.8L1043.4 216.9L1044.9 217.1L1046.5 217.2L1047.7 217.3L1048.9 217.4L1050.1 217.5L1051.3 217.6L1052.6 217.7L1053.8 217.8L1055.0 217.8L1056.3 217.9L1056.6 217.9M1078.2 219.0L1079.7 219.1L1081.0 219.1L1082.2 219.2L1083.4 219.2L1084.6 219.2L1085.8 219.3L1087.1 219.3L1088.3 219.3L1089.5 219.4L1091.1 219.4L1092.6 219.4L1092.7 219.4M1114.3 219.6L1115.9 219.5L1117.1 219.5L1118.3 219.5L1119.5 219.5L1121.1 219.5L1122.6 219.5L1124.1 219.5L1125.6 219.5L1127.0 219.5L1128.4 219.5L1128.8 219.5M1150.4 220.0L1151.9 220.0L1153.3 220.1L1154.7 220.1L1156.2 220.1L1157.7 220.2L1159.2 220.2L1160.8 220.2L1162.0 220.2L1163.2 220.3L1164.5 220.3L1164.9 220.3M1186.7 221.0L1188.3 221.0L1189.5 221.1L1190.8 221.2L1192.0 221.3L1193.3 221.3L1194.6 221.4L1195.9 221.5L1197.2 221.6L1198.5 221.7L1199.8 221.8L1201.1 221.9L1201.2 221.9M1222.9 223.6L1224.1 223.7L1225.7 223.9L1227.0 224.0L1228.7 224.1L1230.2 224.2L1231.4 224.3L1232.9 224.4L1234.2 224.5L1235.4 224.6L1236.7 224.7L1237.4 224.8M1258.7 226.7L1260.2 227.2L1261.3 227.6L1262.4 228.1L1263.5 228.7L1264.6 229.2L1265.7 229.8L1266.8 230.4L1267.8 231.0L1268.9 231.7L1270.0 232.3L1271.0 232.9L1271.6 233.3M1290.5 245.2L1291.8 245.7L1293.3 246.2L1294.7 246.6L1296.1 246.8L1297.5 247.0L1298.7 247.1L1300.1 247.0L1301.5 246.9L1303.0 246.5L1304.3 246.2L1304.6 246.0M1324.3 238.1L1325.9 237.5L1327.0 237.1L1328.4 236.6L1329.8 236.4L1331.3 236.3L1332.8 236.4L1334.2 236.6L1335.6 236.9L1337.1 237.5L1338.2 238.2M1353.2 254.8L1353.9 255.9L1354.5 257.0L1355.1 258.0L1355.8 259.4L1356.5 260.8L1357.1 262.3L1357.8 263.7L1358.3 264.9L1358.8 266.0L1359.3 267.2L1359.6 267.8M1367.7 288.1L1368.2 289.6L1368.6 290.8L1369.1 292.3L1369.6 293.7L1370.1 295.2L1370.5 296.6L1371.0 298.1L1371.4 299.2L1371.8 300.4L1372.2 301.6L1372.3 301.9M1380.3 322.1L1380.8 323.3L1381.3 324.5L1381.8 325.6L1382.4 327.0L1383.0 328.5L1383.7 329.9L1384.3 331.3L1384.9 332.7L1385.3 333.9L1385.8 335.1L1386.0 335.5M1393.3 355.8L1393.7 357.0L1394.1 358.1L1394.5 359.3L1395.1 360.8L1395.6 362.2L1396.2 363.7L1396.7 365.2L1397.2 366.6L1397.7 368.2L1398.1 369.3L1398.2 369.5M1404.6 390.2L1405.1 391.7L1405.5 392.9L1405.9 394.0L1406.5 395.5L1407.1 397.0L1407.6 398.4L1408.2 399.9L1408.8 401.4L1409.2 402.5L1409.6 403.7L1409.6 403.7M1415.3 424.8L1415.7 426.2L1416.1 427.4L1416.4 428.5L1416.9 430.0L1417.4 431.5L1417.9 433.0L1418.3 434.5L1418.8 436.0L1419.2 437.2L1419.5 438.4L1419.6 438.6M1425.3 459.6L1425.7 460.8L1426.2 462.0L1426.7 463.1L1427.3 464.5L1428.0 466.0L1428.6 467.4L1429.3 468.8L1429.9 470.2L1430.4 471.4L1430.9 472.6L1431.0 473.0M1436.7 494.0L1437.0 495.4L1437.2 496.6L1437.5 497.8L1437.8 499.0L1438.0 500.1L1438.3 501.3L1438.5 502.5L1438.8 503.7L1439.0 504.9L1439.2 506.0L1439.5 507.2L1439.7 508.2M1443.3 529.7L1443.5 531.0L1443.6 532.6L1443.8 534.1L1444.0 535.7L1444.2 537.3L1444.3 538.8L1444.4 540.0L1444.6 541.3L1444.7 542.5L1444.9 543.7L1444.9 544.1M1447.6 565.8L1447.8 567.1L1448.0 568.3L1448.2 569.6L1448.3 570.8L1448.5 571.9L1448.8 573.5L1449.0 575.1L1449.2 576.6L1449.5 578.2L1449.7 579.7L1449.7 580.2M1451.5 602.0L1451.6 603.2L1451.7 604.4L1451.9 606.0L1452.0 607.6L1452.2 608.8L1452.3 610.0L1452.4 611.2L1452.5 612.4L1452.7 613.7L1452.8 614.9L1452.9 616.2L1452.9 616.4M1454.6 638.3L1454.7 639.6L1454.8 640.8L1454.9 642.0L1455.0 643.3L1455.2 644.5L1455.3 645.7L1455.4 646.9L1455.5 648.1L1455.7 649.3L1455.8 650.9L1456.0 652.4L1456.0 652.7M1457.6 674.6L1457.7 675.9L1457.9 677.1L1458.0 678.7L1458.3 680.2L1458.5 681.8L1458.7 683.3L1458.9 684.9L1459.0 686.1L1459.2 687.4L1459.4 688.7L1459.4 689.0M1461.4 710.7L1461.5 712.3L1461.7 713.7L1461.8 715.1L1462.0 716.5L1462.1 717.9L1462.3 719.2L1462.4 720.5L1462.5 721.7L1462.7 723.2L1462.8 724.5L1462.9 725.1" stroke="#ff0000" fill="none" stroke-width="5.2" stroke-linecap="round" stroke-linejoin="round"/>
<path d="M188.5 624.0C189.4 617.1 192.1 595.2 193.8 582.5C195.5 569.8 197.1 558.6 198.8 547.5C200.5 536.4 202.2 525.4 203.8 516.0C205.4 506.6 206.9 498.4 208.3 491.0C209.8 483.6 211.1 477.4 212.5 471.5C213.9 465.6 215.2 460.4 216.7 455.5C218.2 450.6 219.5 446.5 221.7 442.0C223.9 437.5 226.7 433.3 230.0 428.5C233.3 423.7 238.1 418.6 241.7 413.3C245.3 408.0 248.6 402.2 251.7 396.7C254.8 391.1 257.5 385.0 260.0 380.0C262.5 375.0 264.3 371.2 266.5 366.5C268.7 361.8 270.5 358.6 273.3 351.7C276.1 344.8 280.0 334.2 283.3 325.0C286.6 315.8 289.7 306.7 293.3 296.7C296.9 286.7 301.1 275.2 305.0 265.0C308.9 254.8 311.7 246.8 316.7 235.5C321.7 224.2 329.4 209.7 335.0 197.5C340.6 185.3 345.4 173.3 350.0 162.5C354.6 151.7 359.2 139.8 362.5 132.5C365.8 125.2 367.5 121.8 370.0 118.8C372.5 115.8 375.2 114.5 377.5 114.3C379.8 114.1 381.7 114.7 383.8 117.5C385.9 120.3 387.7 125.4 390.0 131.0C392.3 136.6 395.0 144.3 397.5 151.0C400.0 157.7 402.5 165.3 405.0 171.0C407.5 176.7 409.8 181.8 412.5 185.0C415.2 188.2 418.4 190.1 421.3 190.5C424.2 190.9 426.9 189.4 430.0 187.5C433.1 185.6 436.7 181.7 440.0 178.8C443.3 175.9 446.2 172.1 450.0 170.0C453.8 167.9 457.5 167.2 462.5 166.3C467.5 165.4 472.9 165.1 480.0 164.3C487.1 163.6 496.7 162.6 505.0 161.8C513.3 161.0 521.7 160.1 530.0 159.5C538.3 158.9 546.7 158.7 555.0 158.5C563.3 158.3 571.7 158.3 580.0 158.5C588.3 158.7 596.7 159.0 605.0 159.5C613.3 160.0 620.8 160.5 630.0 161.3C639.2 162.1 650.8 163.4 660.0 164.3C669.2 165.2 676.7 166.1 685.0 167.0C693.3 167.9 701.7 169.1 710.0 170.0C718.3 170.9 726.7 171.7 735.0 172.5C743.3 173.3 751.7 174.2 760.0 175.0C768.3 175.8 776.7 176.6 785.0 177.5C793.3 178.4 801.7 179.4 810.0 180.5C818.3 181.6 826.7 182.6 835.0 183.8C843.3 185.0 852.9 186.2 860.0 187.5C867.1 188.8 871.2 190.2 877.5 191.3C883.8 192.4 890.0 193.0 897.5 193.8C905.0 194.6 914.2 195.5 922.5 196.3C930.8 197.1 939.2 197.8 947.5 198.5C955.8 199.2 964.2 199.8 972.5 200.3C980.8 200.9 989.2 201.4 997.5 201.8C1005.8 202.2 1014.2 202.6 1022.5 203.0C1030.8 203.4 1039.2 204.0 1047.5 204.3C1055.8 204.6 1064.2 204.9 1072.5 205.0C1080.8 205.1 1088.8 205.2 1097.5 205.0C1106.2 204.8 1114.2 204.1 1125.0 203.8C1135.8 203.5 1150.0 203.2 1162.5 203.3C1175.0 203.4 1189.6 204.0 1200.0 204.5C1210.4 205.0 1216.7 205.6 1225.0 206.3C1233.3 207.0 1243.8 207.9 1250.0 208.8C1256.2 209.8 1258.8 210.1 1262.5 212.0C1266.2 213.9 1269.6 217.4 1272.5 220.0C1275.4 222.6 1277.3 225.4 1280.0 227.5C1282.7 229.6 1285.9 232.3 1288.8 232.3C1291.7 232.3 1294.8 231.6 1297.5 227.5C1300.2 223.4 1302.5 214.9 1305.0 208.0C1307.5 201.1 1310.0 193.5 1312.5 186.0C1315.0 178.5 1317.5 169.9 1320.0 163.0C1322.5 156.1 1324.9 148.8 1327.5 144.5C1330.1 140.2 1333.2 137.8 1335.5 137.5C1337.8 137.2 1339.6 139.2 1341.5 142.5C1343.4 145.8 1345.2 152.3 1347.0 157.5C1348.8 162.7 1350.1 168.6 1352.0 173.5C1353.9 178.4 1355.8 181.7 1358.3 186.7C1360.8 191.7 1363.9 197.7 1366.7 203.5C1369.5 209.3 1372.2 215.5 1375.0 221.7C1377.8 227.9 1380.8 234.7 1383.3 240.5C1385.8 246.3 1387.8 251.0 1390.0 256.5C1392.2 262.0 1394.2 266.8 1396.7 273.5C1399.2 280.2 1402.2 288.9 1405.0 297.0C1407.8 305.1 1410.5 313.4 1413.3 322.0C1416.1 330.6 1419.0 339.9 1421.7 348.3C1424.4 356.7 1427.0 364.6 1429.5 372.5C1432.0 380.4 1434.6 388.4 1436.5 396.0C1438.4 403.6 1439.7 411.0 1440.8 418.3C1441.9 425.6 1442.5 433.1 1443.3 440.0C1444.1 446.9 1445.1 453.3 1445.8 460.0C1446.5 466.7 1446.9 472.5 1447.6 480.0C1448.3 487.5 1449.2 496.7 1450.0 505.0C1450.8 513.3 1451.7 521.7 1452.5 530.0C1453.3 538.3 1454.2 546.7 1455.0 555.0C1455.8 563.3 1456.6 571.7 1457.3 580.0C1458.0 588.3 1458.7 596.7 1459.3 605.0C1459.9 613.3 1460.5 621.5 1461.0 630.0C1461.5 638.5 1462.1 651.7 1462.3 656.0" stroke="#ff0000" fill="none" stroke-width="5.2" stroke-linecap="round" stroke-linejoin="round"/>
</g>
<g fill="#000">
<circle cx="188.0" cy="715.5" r="5.9"/>
<circle cx="202.8" cy="712.5" r="5.9"/>
<circle cx="212.5" cy="705.8" r="5.9"/>
<circle cx="221.0" cy="693.5" r="5.9"/>
<circle cx="226.8" cy="673.3" r="5.9"/>
<circle cx="231.5" cy="645.0" r="5.9"/>
<circle cx="234.8" cy="612.0" r="5.9"/>
<circle cx="240.8" cy="580.8" r="5.9"/>
<circle cx="243.8" cy="553.8" r="5.9"/>
<circle cx="247.5" cy="540.0" r="5.9"/>
<circle cx="245.0" cy="515.3" r="5.9"/>
<circle cx="250.0" cy="490.8" r="5.9"/>
<circle cx="252.5" cy="463.3" r="5.9"/>
<circle cx="259.8" cy="424.0" r="5.9"/>
<circle cx="260.8" cy="378.3" r="5.9"/>
<circle cx="262.5" cy="348.5" r="5.9"/>
<circle cx="268.3" cy="317.8" r="5.9"/>
<circle cx="275.3" cy="294.3" r="5.9"/>
<circle cx="274.3" cy="274.8" r="5.9"/>
<circle cx="282.5" cy="256.0" r="5.9"/>
<circle cx="292.0" cy="240.0" r="5.9"/>
<circle cx="302.5" cy="224.3" r="5.9"/>
<circle cx="313.8" cy="215.5" r="5.9"/>
<circle cx="323.0" cy="200.0" r="5.9"/>
<circle cx="333.0" cy="186.8" r="5.9"/>
<circle cx="341.8" cy="184.5" r="5.9"/>
<circle cx="349.3" cy="191.3" r="5.9"/>
<circle cx="355.8" cy="197.0" r="5.9"/>
<circle cx="364.3" cy="206.8" r="5.9"/>
<circle cx="370.5" cy="201.8" r="5.9"/>
<circle cx="373.0" cy="165.0" r="5.9"/>
<circle cx="378.8" cy="145.0" r="5.9"/>
<circle cx="387.8" cy="128.0" r="5.9"/>
<circle cx="396.5" cy="118.0" r="5.9"/>
<circle cx="404.3" cy="111.3" r="5.9"/>
<circle cx="409.5" cy="104.0" r="5.9"/>
<circle cx="423.8" cy="102.0" r="5.9"/>
<circle cx="430.5" cy="97.5" r="5.9"/>
<circle cx="442.3" cy="98.3" r="5.9"/>
<circle cx="450.0" cy="89.5" r="5.9"/>
<circle cx="460.0" cy="87.5" r="5.9"/>
<circle cx="466.3" cy="90.8" r="5.9"/>
<circle cx="485.3" cy="107.0" r="5.9"/>
<circle cx="495.5" cy="121.5" r="5.9"/>
<circle cx="507.5" cy="134.0" r="5.9"/>
<circle cx="515.0" cy="137.8" r="5.9"/>
<circle cx="523.8" cy="146.3" r="5.9"/>
<circle cx="532.5" cy="151.3" r="5.9"/>
<circle cx="538.8" cy="154.3" r="5.9"/>
<circle cx="556.8" cy="155.5" r="5.9"/>
<circle cx="570.5" cy="156.3" r="5.9"/>
<circle cx="577.5" cy="160.5" r="5.9"/>
<circle cx="583.0" cy="157.5" r="5.9"/>
<circle cx="595.8" cy="162.0" r="5.9"/>
<circle cx="604.3" cy="162.5" r="5.9"/>
<circle cx="612.5" cy="160.0" r="5.9"/>
<circle cx="633.8" cy="161.3" r="5.9"/>
<circle cx="655.8" cy="164.5" r="5.9"/>
<circle cx="670.0" cy="162.5" r="5.9"/>
<circle cx="693.3" cy="167.5" r="5.9"/>
<circle cx="718.3" cy="173.0" r="5.9"/>
<circle cx="732.8" cy="171.8" r="5.9"/>
<circle cx="745.0" cy="174.3" r="5.9"/>
<circle cx="755.0" cy="174.3" r="5.9"/>
<circle cx="774.3" cy="173.3" r="5.9"/>
<circle cx="787.0" cy="181.0" r="5.9"/>
<circle cx="807.5" cy="184.5" r="5.9"/>
<circle cx="837.3" cy="179.5" r="5.9"/>
<circle cx="865.5" cy="186.8" r="5.9"/>
<circle cx="899.5" cy="189.3" r="5.9"/>
<circle cx="921.5" cy="180.0" r="5.9"/>
<circle cx="932.3" cy="168.5" r="5.9"/>
<circle cx="946.3" cy="162.0" r="5.9"/>
<circle cx="954.3" cy="156.3" r="5.9"/>
<circle cx="962.5" cy="155.8" r="5.9"/>
<circle cx="968.8" cy="156.3" r="5.9"/>
<circle cx="984.0" cy="162.0" r="5.9"/>
<circle cx="992.8" cy="163.0" r="5.9"/>
<circle cx="999.5" cy="160.0" r="5.9"/>
<circle cx="1010.5" cy="153.8" r="5.9"/>
<circle cx="1021.0" cy="138.5" r="5.9"/>
<circle cx="1029.5" cy="128.5" r="5.9"/>
<circle cx="1035.8" cy="124.5" r="5.9"/>
<circle cx="1047.3" cy="119.0" r="5.9"/>
<circle cx="1060.0" cy="108.5" r="5.9"/>
<circle cx="1068.0" cy="110.0" r="5.9"/>
<circle cx="1073.3" cy="100.8" r="5.9"/>
<circle cx="1082.5" cy="103.5" r="5.9"/>
<circle cx="1091.5" cy="103.8" r="5.9"/>
<circle cx="1103.8" cy="103.8" r="5.9"/>
<circle cx="1111.3" cy="103.3" r="5.9"/>
<circle cx="1120.0" cy="105.0" r="5.9"/>
<circle cx="1127.0" cy="112.5" r="5.9"/>
<circle cx="1134.5" cy="117.3" r="5.9"/>
<circle cx="1141.3" cy="122.0" r="5.9"/>
<circle cx="1149.5" cy="130.5" r="5.9"/>
<circle cx="1157.5" cy="131.8" r="5.9"/>
<circle cx="1165.5" cy="135.3" r="5.9"/>
<circle cx="1181.3" cy="132.3" r="5.9"/>
<circle cx="1192.5" cy="135.0" r="5.9"/>
<circle cx="1198.3" cy="135.0" r="5.9"/>
<circle cx="1207.0" cy="141.0" r="5.9"/>
<circle cx="1217.5" cy="149.8" r="5.9"/>
<circle cx="1226.8" cy="176.5" r="5.9"/>
<circle cx="1232.5" cy="198.0" r="5.9"/>
<circle cx="1238.3" cy="216.3" r="5.9"/>
<circle cx="1244.3" cy="239.5" r="5.9"/>
<circle cx="1252.3" cy="249.2" r="5.9"/>
<circle cx="1257.8" cy="252.0" r="5.9"/>
<circle cx="1267.2" cy="258.0" r="5.9"/>
<circle cx="1273.8" cy="283.8" r="5.9"/>
<circle cx="1279.5" cy="315.0" r="5.9"/>
<circle cx="1287.0" cy="338.5" r="5.9"/>
<circle cx="1292.8" cy="356.5" r="5.9"/>
<circle cx="1298.0" cy="387.5" r="5.9"/>
<circle cx="1299.3" cy="409.8" r="5.9"/>
<circle cx="1304.8" cy="430.5" r="5.9"/>
<circle cx="1309.2" cy="457.0" r="5.9"/>
<circle cx="1313.5" cy="484.0" r="5.9"/>
<circle cx="1319.0" cy="515.8" r="5.9"/>
<circle cx="1325.3" cy="539.3" r="5.9"/>
<circle cx="1329.8" cy="570.0" r="5.9"/>
<circle cx="1340.8" cy="606.8" r="5.9"/>
<circle cx="1346.3" cy="628.5" r="5.9"/>
<circle cx="1356.3" cy="651.3" r="5.9"/>
<circle cx="1366.5" cy="668.3" r="5.9"/>
<circle cx="1373.5" cy="675.0" r="5.9"/>
<circle cx="1381.3" cy="684.3" r="5.9"/>
<circle cx="1391.8" cy="672.5" r="5.9"/>
<circle cx="1398.8" cy="666.5" r="5.9"/>
<circle cx="1410.0" cy="656.8" r="5.9"/>
<circle cx="1416.3" cy="663.0" r="5.9"/>
<circle cx="1423.0" cy="662.5" r="5.9"/>
<circle cx="1430.5" cy="665.5" r="5.9"/>
<circle cx="1440.0" cy="682.0" r="5.9"/>
<circle cx="1449.0" cy="703.8" r="5.9"/>
<circle cx="1457.0" cy="712.0" r="5.9"/>
</g>
<g fill="#c8641e">
<circle cx="188.0" cy="715.5" r="0.7"/>
<circle cx="202.8" cy="712.5" r="0.7"/>
<circle cx="212.5" cy="705.8" r="0.7"/>
<circle cx="221.0" cy="693.5" r="0.7"/>
<circle cx="226.8" cy="673.3" r="0.7"/>
<circle cx="231.5" cy="645.0" r="0.7"/>
<circle cx="234.8" cy="612.0" r="0.7"/>
<circle cx="240.8" cy="580.8" r="0.7"/>
<circle cx="243.8" cy="553.8" r="0.7"/>
<circle cx="247.5" cy="540.0" r="0.7"/>
<circle cx="245.0" cy="515.3" r="0.7"/>
<circle cx="250.0" cy="490.8" r="0.7"/>
<circle cx="252.5" cy="463.3" r="0.7"/>
<circle cx="259.8" cy="424.0" r="0.7"/>
<circle cx="260.8" cy="378.3" r="0.7"/>
<circle cx="262.5" cy="348.5" r="0.7"/>
<circle cx="268.3" cy="317.8" r="0.7"/>
<circle cx="275.3" cy="294.3" r="0.7"/>
<circle cx="274.3" cy="274.8" r="0.7"/>
<circle cx="282.5" cy="256.0" r="0.7"/>
<circle cx="292.0" cy="240.0" r="0.7"/>
<circle cx="302.5" cy="224.3" r="0.7"/>
<circle cx="313.8" cy="215.5" r="0.7"/>
<circle cx="323.0" cy="200.0" r="0.7"/>
<circle cx="333.0" cy="186.8" r="0.7"/>
<circle cx="341.8" cy="184.5" r="0.7"/>
<circle cx="349.3" cy="191.3" r="0.7"/>
<circle cx="355.8" cy="197.0" r="0.7"/>
<circle cx="364.3" cy="206.8" r="0.7"/>
<circle cx="370.5" cy="201.8" r="0.7"/>
<circle cx="373.0" cy="165.0" r="0.7"/>
<circle cx="378.8" cy="145.0" r="0.7"/>
<circle cx="387.8" cy="128.0" r="0.7"/>
<circle cx="396.5" cy="118.0" r="0.7"/>
<circle cx="404.3" cy="111.3" r="0.7"/>
<circle cx="409.5" cy="104.0" r="0.7"/>
<circle cx="423.8" cy="102.0" r="0.7"/>
<circle cx="430.5" cy="97.5" r="0.7"/>
<circle cx="442.3" cy="98.3" r="0.7"/>
<circle cx="450.0" cy="89.5" r="0.7"/>
<circle cx="460.0" cy="87.5" r="0.7"/>
<circle cx="466.3" cy="90.8" r="0.7"/>
<circle cx="485.3" cy="107.0" r="0.7"/>
<circle cx="495.5" cy="121.5" r="0.7"/>
<circle cx="507.5" cy="134.0" r="0.7"/>
<circle cx="515.0" cy="137.8" r="0.7"/>
<circle cx="523.8" cy="146.3" r="0.7"/>
<circle cx="532.5" cy="151.3" r="0.7"/>
<circle cx="538.8" cy="154.3" r="0.7"/>
<circle cx="556.8" cy="155.5" r="0.7"/>
<circle cx="570.5" cy="156.3" r="0.7"/>
<circle cx="577.5" cy="160.5" r="0.7"/>
<circle cx="583.0" cy="157.5" r="0.7"/>
<circle cx="595.8" cy="162.0" r="0.7"/>
<circle cx="604.3" cy="162.5" r="0.7"/>
<circle cx="612.5" cy="160.0" r="0.7"/>
<circle cx="633.8" cy="161.3" r="0.7"/>
<circle cx="655.8" cy="164.5" r="0.7"/>
<circle cx="670.0" cy="162.5" r="0.7"/>
<circle cx="693.3" cy="167.5" r="0.7"/>
<circle cx="718.3" cy="173.0" r="0.7"/>
<circle cx="732.8" cy="171.8" r="0.7"/>
<circle cx="745.0" cy="174.3" r="0.7"/>
<circle cx="755.0" cy="174.3" r="0.7"/>
<circle cx="774.3" cy="173.3" r="0.7"/>
<circle cx="787.0" cy="181.0" r="0.7"/>
<circle cx="807.5" cy="184.5" r="0.7"/>
<circle cx="837.3" cy="179.5" r="0.7"/>
<circle cx="865.5" cy="186.8" r="0.7"/>
<circle cx="899.5" cy="189.3" r="0.7"/>
<circle cx="921.5" cy="180.0" r="0.7"/>
<circle cx="932.3" cy="168.5" r="0.7"/>
<circle cx="946.3" cy="162.0" r="0.7"/>
<circle cx="954.3" cy="156.3" r="0.7"/>
<circle cx="962.5" cy="155.8" r="0.7"/>
<circle cx="968.8" cy="156.3" r="0.7"/>
<circle cx="984.0" cy="162.0" r="0.7"/>
<circle cx="992.8" cy="163.0" r="0.7"/>
<circle cx="999.5" cy="160.0" r="0.7"/>
<circle cx="1010.5" cy="153.8" r="0.7"/>
<circle cx="1021.0" cy="138.5" r="0.7"/>
<circle cx="1029.5" cy="128.5" r="0.7"/>
<circle cx="1035.8" cy="124.5" r="0.7"/>
<circle cx="1047.3" cy="119.0" r="0.7"/>
<circle cx="1060.0" cy="108.5" r="0.7"/>
<circle cx="1068.0" cy="110.0" r="0.7"/>
<circle cx="1073.3" cy="100.8" r="0.7"/>
<circle cx="1082.5" cy="103.5" r="0.7"/>
<circle cx="1091.5" cy="103.8" r="0.7"/>
<circle cx="1103.8" cy="103.8" r="0.7"/>
<circle cx="1111.3" cy="103.3" r="0.7"/>
<circle cx="1120.0" cy="105.0" r="0.7"/>
<circle cx="1127.0" cy="112.5" r="0.7"/>
<circle cx="1134.5" cy="117.3" r="0.7"/>
<circle cx="1141.3" cy="122.0" r="0.7"/>
<circle cx="1149.5" cy="130.5" r="0.7"/>
<circle cx="1157.5" cy="131.8" r="0.7"/>
<circle cx="1165.5" cy="135.3" r="0.7"/>
<circle cx="1181.3" cy="132.3" r="0.7"/>
<circle cx="1192.5" cy="135.0" r="0.7"/>
<circle cx="1198.3" cy="135.0" r="0.7"/>
<circle cx="1207.0" cy="141.0" r="0.7"/>
<circle cx="1217.5" cy="149.8" r="0.7"/>
<circle cx="1226.8" cy="176.5" r="0.7"/>
<circle cx="1232.5" cy="198.0" r="0.7"/>
<circle cx="1238.3" cy="216.3" r="0.7"/>
<circle cx="1244.3" cy="239.5" r="0.7"/>
<circle cx="1252.3" cy="249.2" r="0.7"/>
<circle cx="1257.8" cy="252.0" r="0.7"/>
<circle cx="1267.2" cy="258.0" r="0.7"/>
<circle cx="1273.8" cy="283.8" r="0.7"/>
<circle cx="1279.5" cy="315.0" r="0.7"/>
<circle cx="1287.0" cy="338.5" r="0.7"/>
<circle cx="1292.8" cy="356.5" r="0.7"/>
<circle cx="1298.0" cy="387.5" r="0.7"/>
<circle cx="1299.3" cy="409.8" r="0.7"/>
<circle cx="1304.8" cy="430.5" r="0.7"/>
<circle cx="1309.2" cy="457.0" r="0.7"/>
<circle cx="1313.5" cy="484.0" r="0.7"/>
<circle cx="1319.0" cy="515.8" r="0.7"/>
<circle cx="1325.3" cy="539.3" r="0.7"/>
<circle cx="1329.8" cy="570.0" r="0.7"/>
<circle cx="1340.8" cy="606.8" r="0.7"/>
<circle cx="1346.3" cy="628.5" r="0.7"/>
<circle cx="1356.3" cy="651.3" r="0.7"/>
<circle cx="1366.5" cy="668.3" r="0.7"/>
<circle cx="1373.5" cy="675.0" r="0.7"/>
<circle cx="1381.3" cy="684.3" r="0.7"/>
<circle cx="1391.8" cy="672.5" r="0.7"/>
<circle cx="1398.8" cy="666.5" r="0.7"/>
<circle cx="1410.0" cy="656.8" r="0.7"/>
<circle cx="1416.3" cy="663.0" r="0.7"/>
<circle cx="1423.0" cy="662.5" r="0.7"/>
<circle cx="1430.5" cy="665.5" r="0.7"/>
<circle cx="1440.0" cy="682.0" r="0.7"/>
<circle cx="1449.0" cy="703.8" r="0.7"/>
<circle cx="1457.0" cy="712.0" r="0.7"/>
</g>
<line x1="378.2" y1="47" x2="378.2" y2="722" stroke="#a6a6a6" stroke-width="3.4"/>
<line x1="1336.3" y1="44.5" x2="1336.3" y2="721" stroke="#a6a6a6" stroke-width="3.4"/>
<text transform="translate(86.88 739.80) scale(0.9621 1)" font-size="49.6px" stroke="#000" stroke-width="0.4" stroke-linejoin="round">0.0</text>
<text transform="translate(86.88 619.00) scale(0.9621 1)" font-size="49.6px" stroke="#000" stroke-width="0.4" stroke-linejoin="round">0.2</text>
<text transform="translate(84.95 498.20) scale(0.9621 1)" font-size="49.6px" stroke="#000" stroke-width="0.4" stroke-linejoin="round">0.4</text>
<text transform="translate(85.91 377.40) scale(0.9621 1)" font-size="49.6px" stroke="#000" stroke-width="0.4" stroke-linejoin="round">0.6</text>
<text transform="translate(86.88 256.60) scale(0.9621 1)" font-size="49.6px" stroke="#000" stroke-width="0.4" stroke-linejoin="round">0.8</text>
<text transform="translate(86.88 135.80) scale(0.9621 1)" font-size="49.6px" stroke="#000" stroke-width="0.4" stroke-linejoin="round">1.0</text>
<text transform="translate(175.57 797.30) scale(0.9621 1)" font-size="49.6px" stroke="#000" stroke-width="0.4" stroke-linejoin="round">0</text>
<text transform="translate(412.63 797.30) scale(0.9621 1)" font-size="49.6px" stroke="#000" stroke-width="0.4" stroke-linejoin="round">0.2</text>
<text transform="translate(666.51 797.30) scale(0.9621 1)" font-size="49.6px" stroke="#000" stroke-width="0.4" stroke-linejoin="round">0.4</text>
<text transform="translate(921.84 797.30) scale(0.9621 1)" font-size="49.6px" stroke="#000" stroke-width="0.4" stroke-linejoin="round">0.6</text>
<text transform="translate(1177.18 797.30) scale(0.9621 1)" font-size="49.6px" stroke="#000" stroke-width="0.4" stroke-linejoin="round">0.8</text>
<text transform="translate(1449.34 797.30) scale(0.9621 1)" font-size="49.6px" stroke="#000" stroke-width="0.4" stroke-linejoin="round">1</text>
<text transform="translate(503.81 861.40) scale(0.9910 1)" font-size="56.0px" stroke="#000" stroke-width="0.4" stroke-linejoin="round">Normalized IVD Centerline</text>
<text transform="translate(39.7 681.78) rotate(-90) scale(0.9880 1)" font-size="56.0px" stroke="#000" stroke-width="0.4" stroke-linejoin="round">Compressive Stress (MPa)</text>
<text transform="translate(755.02 65.20) scale(0.9847 1)" font-size="56.6px" stroke="#000" stroke-width="0.4" stroke-linejoin="round">Nucleus</text>
<g stroke="#000" stroke-width="3.7" fill="none"><line x1="398" y1="49.9" x2="739.5" y2="49.9"/><line x1="966" y1="46.9" x2="1317" y2="46.9"/></g>
<path d="M385.0 49.9 L405.3 40 L399.6 49.9 L405.3 59.8 Z" fill="#000"/>
<path d="M1330.2 46.9 L1309.8 37 L1315.5 46.9 L1309.8 56.8 Z" fill="#000"/>
<rect x="1433.5" y="3.1" width="509.1" height="329.8" fill="#fff" stroke="#000" stroke-width="2.4"/>
<circle cx="1496.7" cy="36.3" r="5.9" fill="#000"/><circle cx="1496.7" cy="36.3" r="0.7" fill="#c8641e"/>
<path d="M1453.0 101.8L1462.3 101.8M1473.6 101.8L1482.9 101.8M1494.2 101.8L1503.5 101.8M1514.8 101.8L1524.1 101.8M1535.4 101.8L1540.0 101.8" fill="none" stroke="#0070c0" stroke-width="5.2" stroke-linecap="round"/>
<path d="M1453.0 168.2L1488.9 168.2M1510.0 168.2L1540.0 168.2" fill="none" stroke="#00b050" stroke-width="5.2" stroke-linecap="round"/>
<path d="M1453.0 234.7L1467.5 234.7M1489.2 234.7L1503.7 234.7M1525.4 234.7L1539.9 234.7" fill="none" stroke="#ff0000" stroke-width="5.2" stroke-linecap="round"/>
<path d="M1453.0 300.4L1540.0 300.4" fill="none" stroke="#ff0000" stroke-width="5.2" stroke-linecap="round"/>
<text transform="translate(1549.50 48.80) scale(0.9987 1)" font-size="41.7px" stroke="#000" stroke-width="0.4" stroke-linejoin="round">Skrzypiec et al. (2007)</text>
<text transform="translate(1559.16 114.90) scale(1.0396 1)" font-size="41.7px" stroke="#000" stroke-width="0.4" stroke-linejoin="round">LE</text>
<text transform="translate(1559.17 181.00) scale(1.0340 1)" font-size="41.7px" stroke="#000" stroke-width="0.4" stroke-linejoin="round">HE</text>
<text transform="translate(1559.20 247.40) scale(0.9996 1)" font-size="41.7px" stroke="#000" stroke-width="0.4" stroke-linejoin="round">Biphasic (IDP)</text>
<text transform="translate(1559.20 314.00) scale(0.9988 1)" font-size="41.7px" stroke="#000" stroke-width="0.4" stroke-linejoin="round">Biphasic (S33+IDP)</text>
</svg></body></html>
